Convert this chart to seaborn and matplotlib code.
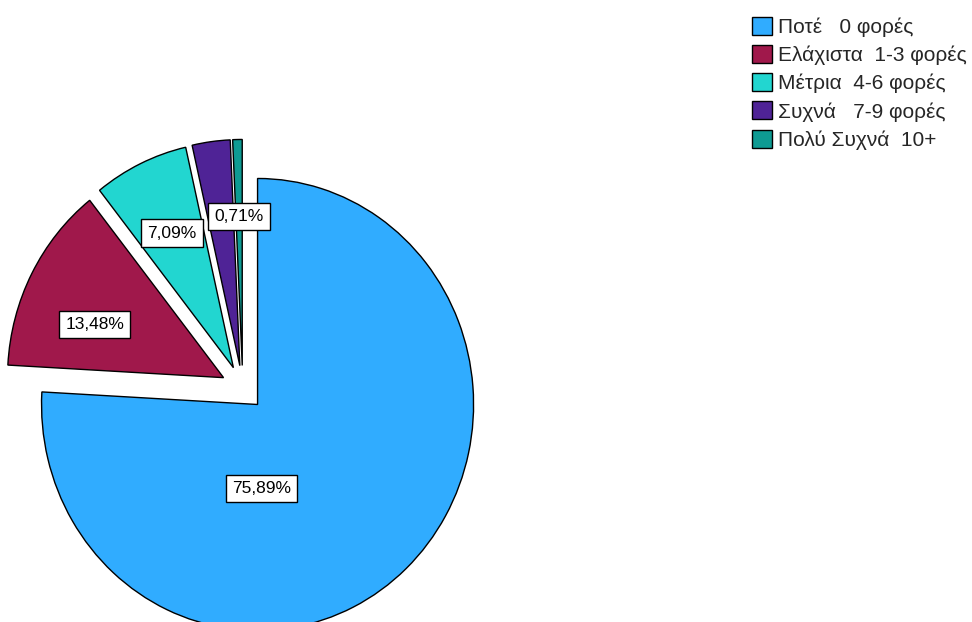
import matplotlib
matplotlib.use('Agg')
import matplotlib.pyplot as plt
import seaborn as sns
import numpy as np

# Data (n = 141 respondents)
categories = ["Ποτέ   0 φορές", "Ελάχιστα  1-3 φορές", "Μέτρια  4-6 φορές",
              "Συχνά   7-9 φορές", "Πολύ Συχνά  10+"]
counts = [107, 19, 10, 4, 1]
hidden_label = "Συχνά   7-9 φορές"
colors = ['#30acff', '#a0184b', '#22d6d0', '#4f2396', '#0e9b93']

sns.set_theme(style='white')
plt.rcParams['font.family'] = ['Liberation Sans', 'DejaVu Sans']

fig = plt.figure(figsize=(9.72, 6.22), dpi=100)
ax = fig.add_axes([0, 0, 1, 1])

total = sum(counts)


def fmt(p):
    return f"{p:.2f}".replace('.', ',') + '%'


wedges, texts = ax.pie(counts, colors=colors, startangle=90, counterclock=False,
                       explode=[0.1] * len(counts),
                       wedgeprops=dict(edgecolor='black', linewidth=1))

label_dist = [None, 0.64, 0.66, 0.66, 0.66]
label_rot = [0, 6, 0, 0, 0]
box = dict(boxstyle='square,pad=0.35', fc='white', ec='black', lw=1)
for i, (w, cat, c) in enumerate(zip(wedges, categories, counts)):
    if cat == hidden_label:
        continue
    cx, cy = w.center
    if i == 0:
        x, y = cx + 0.02, cy - 0.37
    else:
        th = np.deg2rad((w.theta1 + w.theta2) / 2 + label_rot[i])
        x, y = cx + label_dist[i] * np.cos(th), cy + label_dist[i] * np.sin(th)
    ax.text(x, y, fmt(100 * c / total), ha='center', va='center',
            fontsize=12.5, color='black', bbox=box)

ax.set_xlim(-1.1236, 3.376)
ax.set_ylim(-1.035, 1.717)
ax.set_aspect('auto')
ax.axis('off')

fig.legend(wedges, categories, loc='upper left',
           bbox_to_anchor=(752 / 972, 1 - 17 / 622),
           frameon=False, fontsize=15, borderpad=0, borderaxespad=0,
           handlelength=0.96, handleheight=0.96, handletextpad=0.29,
           labelspacing=0.38)

fig.savefig('out.png', dpi=100)
